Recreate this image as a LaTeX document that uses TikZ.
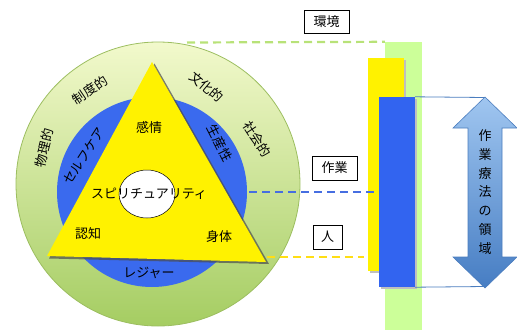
\documentclass[tikz,border=0pt]{standalone}
\usepackage{fontspec}
\setmainfont{Noto Sans CJK JP}
\usetikzlibrary{shapes.geometric}
\definecolor{gtop}{RGB}{242,249,204}
\definecolor{gmid}{RGB}{210,236,156}
\definecolor{gbot}{RGB}{165,205,98}
\definecolor{grim}{RGB}{156,190,96}
\definecolor{ringblue}{RGB}{58,106,238}
\definecolor{barblue}{RGB}{50,100,240}
\definecolor{bargreen}{RGB}{204,255,153}
\definecolor{dgreen}{RGB}{184,226,120}
\definecolor{dblue}{RGB}{70,110,225}
\definecolor{dyellow}{RGB}{255,222,20}
\definecolor{arrtop}{RGB}{160,198,240}
\definecolor{arrbot}{RGB}{70,125,195}
\definecolor{arredge}{RGB}{75,125,190}
\tikzset{
  lbl/.style={font=\fontsize{13}{13}\selectfont, inner sep=0pt},
  tagbox/.style={draw=black, fill=white, line width=0.8pt, font=\fontsize{13}{13}\selectfont, inner sep=0pt, minimum height=23pt},
  bar/.style={draw=none, inner sep=0pt},
  dline/.style={line width=2.2pt, dash pattern=on 8pt off 5pt},
}
\begin{document}
\begin{tikzpicture}[x=1pt,y=-1pt]
\useasboundingbox (0,0) rectangle (517,330);
% green circle
\shade[top color=gtop, middle color=gmid, bottom color=gbot, draw=grim, line width=0.8pt] (158,184) circle[radius=142pt];
% blue ring
\fill[ringblue] (152,192) circle[radius=95pt];
% bars
\node[bar, fill=bargreen, minimum width=37pt, minimum height=288pt] (envbar) at (403.5,186) {};
\fill[black!25] (370,60) rectangle (406,273);
\node[bar, fill=yellow, minimum width=36pt, minimum height=213pt] (personbar) at (386,164.5) {};
\fill[black!25] (381,99) rectangle (417,289);
\node[bar, fill=barblue, minimum width=36pt, minimum height=190pt] (occbar) at (397,192) {};
% domain outline
\draw[arredge, line width=0.8pt] (occbar.north east) -- (485,97.5) (occbar.south east) -- (485,286.5);
% arrow
\shade[top color=arrtop, bottom color=arrbot, draw=arredge, line width=0.6pt]
  (485,97) -- (517,128) -- (502,128) -- (502,257) -- (517,257) -- (485,288) -- (453,257) -- (468,257) -- (468,128) -- (453,128) -- cycle;
\node[font=\fontsize{13}{18.8}\selectfont, align=center, inner sep=0pt] (domain) at (485,192) {作\\業\\療\\法\\の\\領\\域};
% tag boxes
\node[tagbox, minimum width=45pt] (env) at (326.5,21.5) {環境};
\node[tagbox, minimum width=45pt, minimum height=24pt] (occ) at (334.5,168) {作業};
\node[tagbox, minimum width=29pt, minimum height=24pt] (person) at (327.5,237) {人};
% dashed connectors
\coordinate (gstart) at (187,42.5);
\coordinate (bstart) at (249,192);
\coordinate (ystart) at (267,257);
\coordinate (yend) at (364,257);
\draw[dline, dgreen] (gstart) -- (envbar.north west);
\draw[dline, dblue] (bstart) -- (occbar.west);
\draw[dline, dyellow] (ystart) -- (yend);
% triangle
\fill[black!70, opacity=0.7] (154.5,63.5) -- (269,264) -- (49,258.5) -- cycle;
\fill[yellow] (152,62) -- (266,262) -- (47,256) -- cycle;
% white ellipse
\node[ellipse, draw=black, fill=white, line width=0.5pt, minimum width=56pt, minimum height=48pt, inner sep=0pt] (core) at (147,194) {};
% labels
\node[lbl] (spirit) at (149,194) {スピリチュアリティ};
\node[lbl] (emotion) at (149,128) {感情};
\node[lbl] (cognition) at (88,234) {認知};
\node[lbl] (body) at (219,237) {身体};
\node[lbl] (leisure) at (149,273) {レジャー};
\node[lbl, rotate=57] (selfcare) at (84,156) {セルフケア};
\node[lbl, rotate=-63] (product) at (220,143) {生産性};
\node[lbl, rotate=76] (physical) at (44,148) {物理的};
\node[lbl, rotate=34] (inst) at (90,90) {制度的};
\node[lbl, rotate=-40] (cult) at (207,87) {文化的};
\node[lbl, rotate=-57] (social) at (257,139) {社会的};
\end{tikzpicture}
\end{document}
